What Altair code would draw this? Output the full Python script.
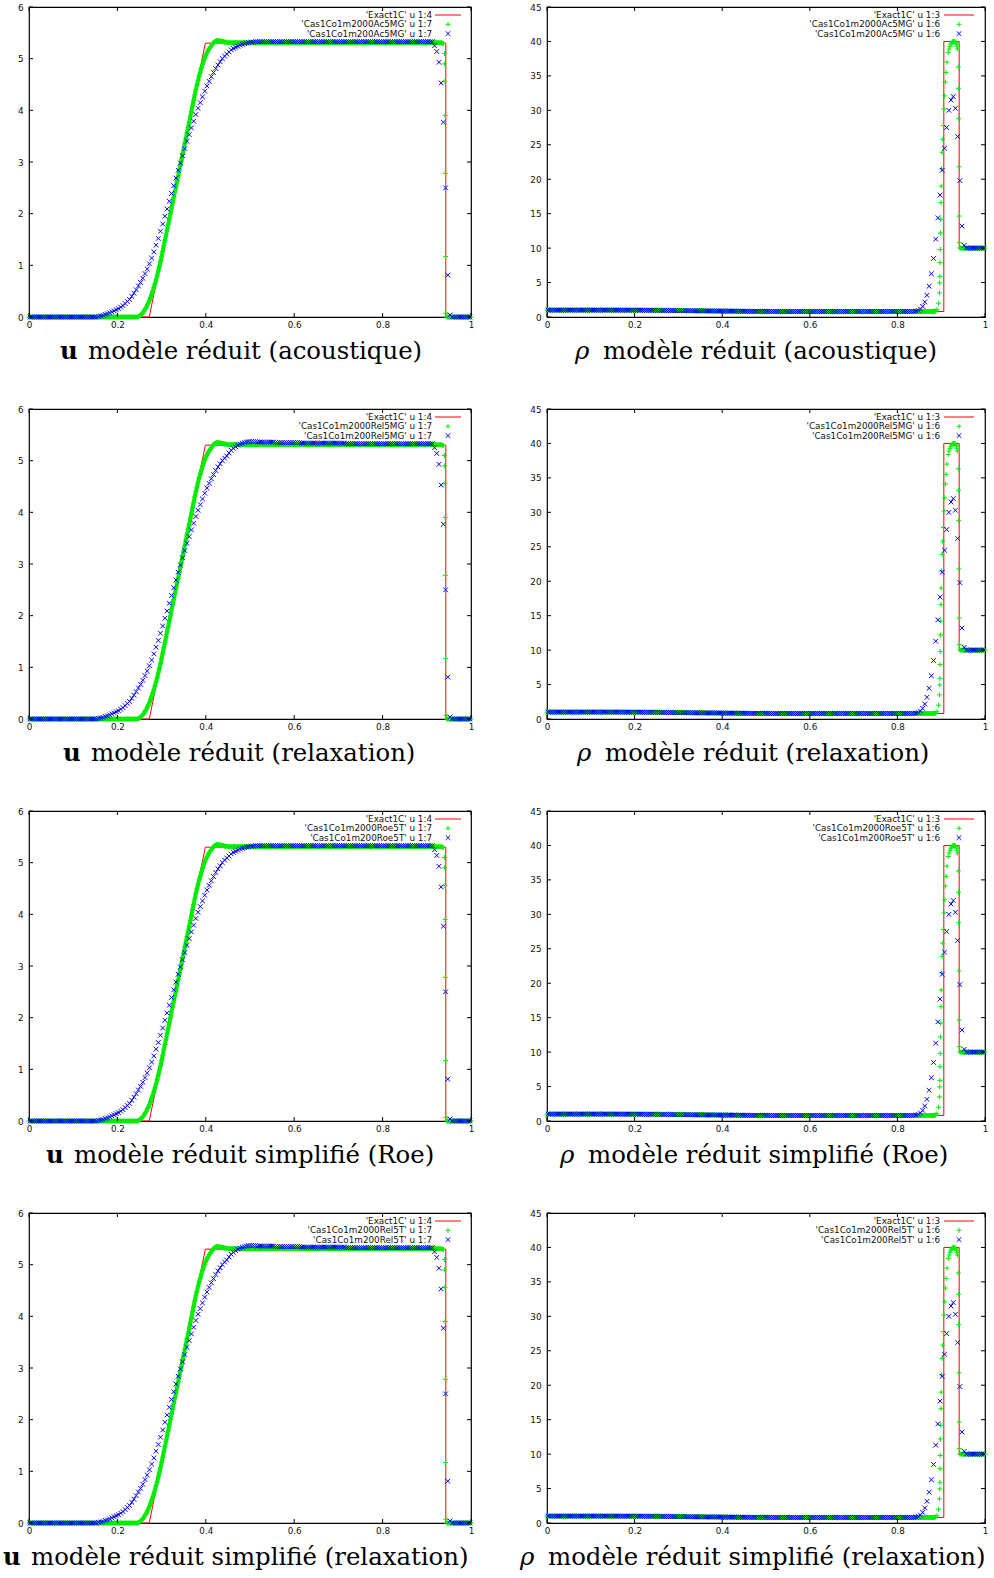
import altair as alt
import pandas as pd

# ---------------------------------------------------------------------------
# meshes of the two numerical runs
# ---------------------------------------------------------------------------
FINE_DX = 0.0025                      # fine run (2000 cells) sampled on this spacing
COARSE_X0, COARSE_DX = 0.0025, 0.005  # coarse run: centres of the 200 cells

X_TICKS = [0, 0.2, 0.4, 0.6, 0.8, 1]
U_TICKS = [0, 1, 2, 3, 4, 5, 6]
RHO_TICKS = [0, 5, 10, 15, 20, 25, 30, 35, 40, 45]

# ---------------------------------------------------------------------------
# exact solution
# ---------------------------------------------------------------------------
U_EXACT_X = [0.0, 0.272, 0.399, 0.943, 0.943, 1.0]
U_EXACT_Y = [0.0, 0.0, 5.30, 5.30, 0.0, 0.0]
RHO_EXACT_X = [0.0, 0.272, 0.399, 0.906, 0.906, 0.941, 0.941, 1.0]
RHO_EXACT_Y = [1.0, 1.0, 0.80, 0.80, 40.0, 40.0, 10.0, 10.0]

# ---------------------------------------------------------------------------
# fine run, velocity (x from 0 with FINE_DX)
# ---------------------------------------------------------------------------
GREEN_U_RAMP = [
    0.00, 0.00, 0.01, 0.02, 0.04, 0.06, 0.08, 0.11, 0.15, 0.18,
    0.23, 0.27, 0.32, 0.38, 0.44, 0.50, 0.57, 0.64, 0.72, 0.80,
    0.89, 0.98, 1.07, 1.17, 1.27, 1.38, 1.48, 1.58, 1.69, 1.79,
    1.90, 2.00, 2.11, 2.21, 2.31, 2.42, 2.52, 2.63, 2.73, 2.84,
    2.94, 3.04, 3.15, 3.25, 3.36, 3.46, 3.57, 3.67, 3.77, 3.88,
    3.98, 4.09, 4.19, 4.30, 4.40, 4.49, 4.58, 4.67, 4.74, 4.82,
    4.89, 4.95, 5.01, 5.06, 5.11, 5.15, 5.19, 5.22, 5.25, 5.28,
    5.31, 5.33, 5.34, 5.35, 5.35, 5.35, 5.34, 5.34, 5.33, 5.33,
    5.32, 5.32, 5.32, 5.31,
]
GREEN_U_LEFT = [0.0] * 97 + GREEN_U_RAMP + [5.31] * 193 + [5.30, 5.29]
GREEN_U_RIGHT_X0 = 0.945
GREEN_U_RIGHT = [0.0] * 23
GREEN_U_SHOCK_X = [0.9400, 0.9405, 0.9410, 0.9415, 0.9420, 0.9425, 0.9430]
GREEN_U_SHOCK_Y = [5.10, 4.90, 4.56, 3.90, 2.78, 1.17, 0.07]

# ---------------------------------------------------------------------------
# coarse run, velocity (200 cells)
# ---------------------------------------------------------------------------
BLUE_U_RAMP = [
    0.01, 0.02, 0.03, 0.05, 0.06, 0.08, 0.10, 0.12, 0.14, 0.16,
    0.19, 0.22, 0.26, 0.30, 0.34, 0.40, 0.46, 0.53, 0.60, 0.67,
    0.75, 0.84, 0.93, 1.03, 1.14, 1.26, 1.39, 1.52, 1.66, 1.80,
    1.95, 2.09, 2.24, 2.39, 2.54, 2.69, 2.84, 2.98, 3.12, 3.26,
    3.40, 3.53, 3.66, 3.79, 3.92, 4.04, 4.15, 4.26, 4.37, 4.47,
    4.56, 4.65, 4.73, 4.81, 4.88, 4.94, 5.00, 5.05, 5.09, 5.13,
    5.17, 5.20, 5.22, 5.24, 5.26, 5.28, 5.29, 5.30, 5.31, 5.32,
    5.32, 5.33,
]
BLUE_U_SHOCK = [5.25, 5.14, 4.93, 4.53, 3.77, 2.50, 0.81, 0.04]
BLUE_U_RELAX_TOP = [5.15, 5.20, 5.24, 5.27, 5.30, 5.32, 5.34, 5.35, 5.36,
                    5.37, 5.37, 5.37, 5.37]
BLUE_U_ACOUSTIC = [0.0] * 31 + BLUE_U_RAMP + [5.33] * 80 + BLUE_U_SHOCK + [0.0] * 9
BLUE_U_RELAX = ([0.0] * 31 + BLUE_U_RAMP[:59] + BLUE_U_RELAX_TOP
                + [5.36] * 8 + [5.35] * 12 + [5.34] * 20 + [5.33] * 40
                + BLUE_U_SHOCK + [0.0] * 9)

# ---------------------------------------------------------------------------
# fine run, density
# ---------------------------------------------------------------------------
GREEN_R_RAMP = ([0.99] * 8 + [0.98] * 8 + [0.96] * 8 + [0.94] * 8 + [0.92] * 8
                + [0.90] * 8 + [0.88] * 8 + [0.86] * 8 + [0.84] * 8 + [0.82] * 8
                + [0.81] * 4)
GREEN_R_LEFT = [1.0] * 97 + GREEN_R_RAMP + [0.80] * 172 + [0.81, 0.83, 0.88]
GREEN_R_RIGHT_X0 = 0.9425
GREEN_R_RIGHT = [10.0] * 24
GREEN_R_PEAK_X = [0.8904, 0.8940, 0.8960, 0.8966, 0.8970, 0.8972, 0.8978, 0.8982,
                  0.8990, 0.8995, 0.9000, 0.9008, 0.9020, 0.9035, 0.9050, 0.9064,
                  0.9080, 0.9094, 0.9110, 0.9130, 0.9160, 0.9180, 0.9200, 0.9220,
                  0.9240, 0.9260, 0.9280, 0.9300, 0.9320, 0.9340, 0.9350, 0.9360,
                  0.9370, 0.9390, 0.9395, 0.9400, 0.9405, 0.9410, 0.9415]
GREEN_R_PEAK_Y = [1.06, 2.0, 3.5, 4.95, 5.9, 7.9, 9.8, 12.2,
                  14.2, 16.6, 19.0, 21.5, 23.9, 25.8, 27.8, 30.2,
                  32.1, 34.1, 35.5, 37.0, 38.4, 38.9, 39.3, 39.6,
                  39.8, 39.95, 40.0, 40.0, 39.95, 39.8, 39.6, 39.3,
                  38.9, 36.3, 33.2, 28.8, 21.8, 14.65, 10.8]

# ---------------------------------------------------------------------------
# coarse run, density
# ---------------------------------------------------------------------------
BLUE_R_RAMP = ([0.99] * 7 + [0.98] * 7 + [0.96] * 7 + [0.94] * 7 + [0.92] * 7
               + [0.90] * 7 + [0.88] * 7 + [0.86] * 7 + [0.84] * 7 + [0.82] * 8)
BLUE_R_PEAK = [0.85, 0.95, 1.16, 1.55, 2.18, 3.15, 4.46, 6.28, 8.5, 11.3, 14.4,
               17.7, 21.3, 24.5, 27.5, 30.0, 31.5, 32.0, 30.3, 26.2, 19.8, 13.2, 10.4]
BLUE_R = [1.0] * 30 + BLUE_R_RAMP + [0.80] * 67 + BLUE_R_PEAK + [10.0] * 9

# ---------------------------------------------------------------------------
# cases and captions
# ---------------------------------------------------------------------------
CASES = ["Ac5MG", "Rel5MG", "Roe5T", "Rel5T"]
CAPTIONS = ["modèle réduit (acoustique)", "modèle réduit (relaxation)",
            "modèle réduit simplifié (Roe)", "modèle réduit simplifié (relaxation)"]
BLUE_U_BY_CASE = [BLUE_U_ACOUSTIC, BLUE_U_RELAX, BLUE_U_ACOUSTIC, BLUE_U_RELAX]
CAPTION_X_U = [31, 34, 17, -26]
CAPTION_X_RHO = [28, 30, 13, -27]

# ---------------------------------------------------------------------------
# style
# ---------------------------------------------------------------------------
PLOT_H = 310
W_LEFT, W_RIGHT = 442, 438
RED, GREEN, BLUE = "#ff0000", "#00ee00", "#0000ff"
PLUS = "M-1,0L1,0M0,-1L0,1"
CROSS = "M-1,-1L1,1M-1,1L1,-1"
SANS = "DejaVu Sans"
SERIF = "DejaVu Serif"
SMALL = 8.8
CAP_SIZE = 24.4
CAP_BASE = 352


def mesh(x0, dx, values, seg):
    return pd.DataFrame({"x": [round(x0 + dx * k, 6) for k in range(len(values))],
                         "y": values, "seg": seg})


def one(label=""):
    return pd.DataFrame({"t": [label]})


def panel(exact, band, loose, blue, ymax, yticks, width, labels, leg, sym, sym_style,
          caption, cap_x):
    xs = alt.Scale(domain=[0, 1], nice=False, zero=False)
    ys = alt.Scale(domain=[0, ymax], nice=False, zero=False)
    common = dict(ticks=False, tickSize=0, domain=False, grid=False, title=None,
                  labelFont=SANS, labelFontSize=SMALL, labelColor="#111",
                  labelFlush=False, labelOverlap=False)
    ax = alt.Axis(values=X_TICKS, format="~g", labelPadding=3, **common)
    ay = alt.Axis(values=yticks, format="~g", labelPadding=6, **common)

    def X(f):
        return alt.X(f, type="quantitative", scale=xs, axis=ax)

    def Y(f):
        return alt.Y(f, type="quantitative", scale=ys, axis=ay)

    layers = []
    layers.append(alt.Chart(exact).mark_line(color=RED, strokeWidth=1).encode(
        x=X("x"), y=Y("y"), order="k:Q"))
    layers.append(alt.Chart(band).mark_line(color=GREEN, strokeWidth=4).encode(
        x=X("x"), y=Y("y"), detail="seg:N"))
    layers.append(alt.Chart(pd.concat([band, loose])).mark_point(
        shape=PLUS, size=25, filled=False, strokeWidth=1, color=GREEN, opacity=1
    ).encode(x=X("x"), y=Y("y")))
    layers.append(alt.Chart(blue).mark_point(
        shape=CROSS, size=22, filled=False, strokeWidth=1, color=BLUE, opacity=1
    ).encode(x=X("x"), y=Y("y")))

    # inward ticks on all four sides
    xt = pd.DataFrame({"v": X_TICKS})
    yt = pd.DataFrame({"v": yticks})
    tick = dict(color="black", strokeWidth=1)
    layers.append(alt.Chart(xt).mark_rule(**tick).encode(
        x=X("v"), y=alt.value(PLOT_H), y2=alt.value(PLOT_H - 4)))
    layers.append(alt.Chart(xt).mark_rule(**tick).encode(
        x=X("v"), y=alt.value(0), y2=alt.value(4)))
    layers.append(alt.Chart(yt).mark_rule(**tick).encode(
        y=Y("v"), x=alt.value(0), x2=alt.value(4)))
    layers.append(alt.Chart(yt).mark_rule(**tick).encode(
        y=Y("v"), x=alt.value(width), x2=alt.value(width - 4)))

    # key
    text_right, line_x1, line_x2, mark_x = leg
    rows_y = [8, 17.3, 26.6]
    for lab, yy in zip(labels, rows_y):
        layers.append(alt.Chart(one(lab)).mark_text(
            align="right", baseline="middle", font=SANS, fontSize=SMALL, color="#111"
        ).encode(x=alt.value(text_right), y=alt.value(yy), text="t:N"))
    layers.append(alt.Chart(one()).mark_rule(color=RED, strokeWidth=1).encode(
        x=alt.value(line_x1), x2=alt.value(line_x2), y=alt.value(rows_y[0])))
    layers.append(alt.Chart(one()).mark_point(
        shape=PLUS, size=25, filled=False, strokeWidth=1, color=GREEN, opacity=1
    ).encode(x=alt.value(mark_x), y=alt.value(rows_y[1])))
    layers.append(alt.Chart(one()).mark_point(
        shape=CROSS, size=22, filled=False, strokeWidth=1, color=BLUE, opacity=1
    ).encode(x=alt.value(mark_x), y=alt.value(rows_y[2])))

    # caption under the panel
    layers.append(alt.Chart(one(sym)).mark_text(
        align="left", baseline="alphabetic", font=SERIF, fontSize=CAP_SIZE,
        color="black", **sym_style
    ).encode(x=alt.value(cap_x), y=alt.value(CAP_BASE), text="t:N"))
    layers.append(alt.Chart(one(caption)).mark_text(
        align="left", baseline="alphabetic", font=SERIF, fontSize=CAP_SIZE, color="black"
    ).encode(x=alt.value(cap_x + 28), y=alt.value(CAP_BASE), text="t:N"))

    return alt.layer(*layers).properties(width=width, height=PLOT_H)


u_exact = pd.DataFrame({"x": U_EXACT_X, "y": U_EXACT_Y, "k": range(len(U_EXACT_X))})
r_exact = pd.DataFrame({"x": RHO_EXACT_X, "y": RHO_EXACT_Y, "k": range(len(RHO_EXACT_X))})
u_band = pd.concat([mesh(0.0, FINE_DX, GREEN_U_LEFT, "a"),
                    mesh(GREEN_U_RIGHT_X0, FINE_DX, GREEN_U_RIGHT, "b")])
u_loose = pd.DataFrame({"x": GREEN_U_SHOCK_X, "y": GREEN_U_SHOCK_Y, "seg": "c"})
r_band = pd.concat([mesh(0.0, FINE_DX, GREEN_R_LEFT, "a"),
                    mesh(GREEN_R_RIGHT_X0, FINE_DX, GREEN_R_RIGHT, "b")])
r_loose = pd.DataFrame({"x": GREEN_R_PEAK_X, "y": GREEN_R_PEAK_Y, "seg": "c"})
r_blue = mesh(COARSE_X0, COARSE_DX, BLUE_R, "d")

panels = []
for i, case in enumerate(CASES):
    u_blue = mesh(COARSE_X0, COARSE_DX, BLUE_U_BY_CASE[i], "d")
    panels.append(panel(
        u_exact, u_band, u_loose, u_blue, 6, U_TICKS, W_LEFT,
        ["'Exact1C' u 1:4", f"'Cas1Co1m2000{case}' u 1:7", f"'Cas1Co1m200{case}' u 1:7"],
        (403, 406, 432, 419), "u", {"fontWeight": "bold"}, CAPTIONS[i], CAPTION_X_U[i]))
    panels.append(panel(
        r_exact, r_band, r_loose, r_blue, 45, RHO_TICKS, W_RIGHT,
        ["'Exact1C' u 1:3", f"'Cas1Co1m2000{case}' u 1:6", f"'Cas1Co1m200{case}' u 1:6"],
        (393, 397, 427, 412), "ρ", {"fontStyle": "italic"}, CAPTIONS[i], CAPTION_X_RHO[i]))

chart = (
    alt.concat(*panels, columns=2, spacing={"row": 92, "column": 76}, bounds="flush")
    .properties(padding={"left": 2, "top": 2, "right": 0, "bottom": 0},
                background="white")
    .configure_view(stroke="black", strokeWidth=1.2)
)

chart.save("out.html", embed_options={"renderer": "svg", "actions": False})
